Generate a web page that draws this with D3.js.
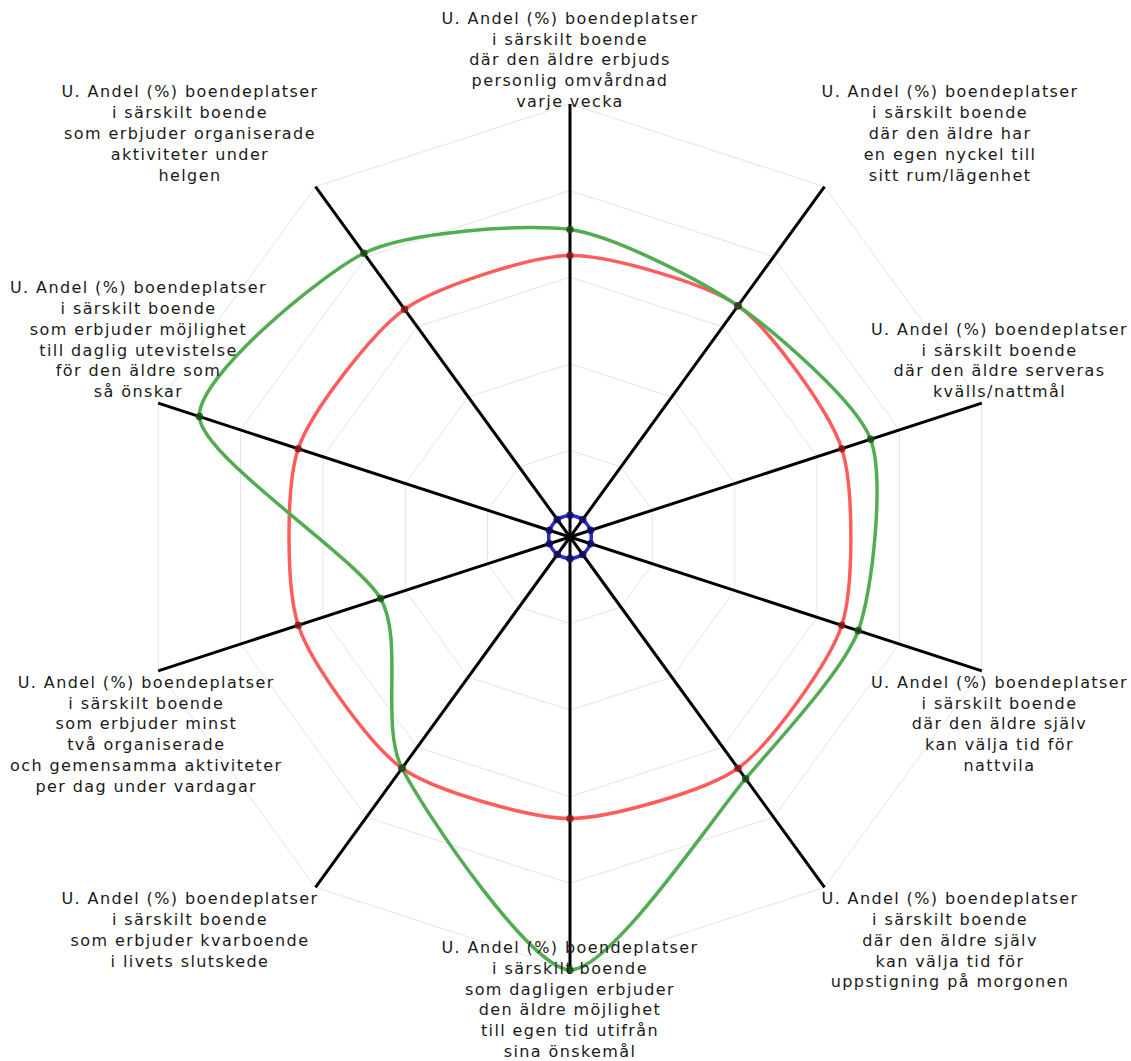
<!DOCTYPE html>
<html>
<head>
<meta charset="utf-8">
<script src="https://cdn.jsdelivr.net/npm/d3@7"></script>
<style>
  body { margin: 0; background: #fff; }
  svg { display: block; }
  .label { font-family: "DejaVu Sans", Verdana, sans-serif; font-size: 16px; letter-spacing: 1.4px; fill: #1a1a1a; }
</style>
</head>
<body>
<div id="viz"></div>
<script>
// axis labels, clockwise from the top
const axisLabels = [
  ["U. Andel (%) boendeplatser", "i särskilt boende", "där den äldre erbjuds", "personlig omvårdnad", "varje vecka"],
  ["U. Andel (%) boendeplatser", "i särskilt boende", "där den äldre har", "en egen nyckel till", "sitt rum/lägenhet"],
  ["U. Andel (%) boendeplatser", "i särskilt boende", "där den äldre serveras", "kvälls/nattmål"],
  ["U. Andel (%) boendeplatser", "i särskilt boende", "där den äldre själv", "kan välja tid för", "nattvila"],
  ["U. Andel (%) boendeplatser", "i särskilt boende", "där den äldre själv", "kan välja tid för", "uppstigning på morgonen"],
  ["U. Andel (%) boendeplatser", "i särskilt boende", "som dagligen erbjuder", "den äldre möjlighet", "till egen tid utifrån", "sina önskemål"],
  ["U. Andel (%) boendeplatser", "i särskilt boende", "som erbjuder kvarboende", "i livets slutskede"],
  ["U. Andel (%) boendeplatser", "i särskilt boende", "som erbjuder minst", "två organiserade", "och gemensamma aktiviteter", "per dag under vardagar"],
  ["U. Andel (%) boendeplatser", "i särskilt boende", "som erbjuder möjlighet", "till daglig utevistelse", "för den äldre som", "så önskar"],
  ["U. Andel (%) boendeplatser", "i särskilt boende", "som erbjuder organiserade", "aktiviteter under", "helgen"]
];

// series values (%)
const redValues   = [65, 66, 66, 66, 66, 65, 66, 66, 66, 65];
const greenValues = [71, 66, 73, 70, 69, 100, 66, 46, 90, 81];
const blueValues  = [5, 5, 5, 5, 5, 5, 5, 5, 5, 5];

const gridLevels = [20, 40, 60, 80, 100];

const series = [
  { name: "blue",  values: blueValues,  color: "#2a2acc", dot: "#101060" },
  { name: "red",   values: redValues,   color: "#ff5c5c", dot: "#8a1c1c" },
  { name: "green", values: greenValues, color: "#52ac52", dot: "#1c501c" }
];

const width = 1131, height = 1061;
const cx = 570, cy = 537, radius = 433;
const n = axisLabels.length;

const svg = d3.select("#viz")
  .append("svg")
  .attr("width", width)
  .attr("height", height);

svg.append("rect").attr("width", width).attr("height", height).attr("fill", "#fff");

const g = svg.append("g").attr("transform", `translate(${cx},${cy})`);

const r = d3.scaleLinear().domain([0, 100]).range([0, radius]);
const angle = d3.scaleLinear().domain([0, n]).range([0, 2 * Math.PI]);

const px = (i, v) => r(v) * Math.sin(angle(i));
const py = (i, v) => -r(v) * Math.cos(angle(i));

// grid polygons
g.selectAll("polygon.grid")
  .data(gridLevels)
  .enter()
  .append("polygon")
  .attr("class", "grid")
  .attr("points", lv => d3.range(n).map(i => [px(i, lv), py(i, lv)].join(",")).join(" "))
  .attr("fill", "none")
  .attr("stroke", "#e4e4e4")
  .attr("stroke-width", 1);

// series lines
const line = d3.lineRadial()
  .angle((d, i) => angle(i))
  .radius(d => r(d))
  .curve(d3.curveCardinalClosed.tension(0.3));

g.selectAll("path.series")
  .data(series)
  .enter()
  .append("path")
  .attr("class", "series")
  .attr("d", d => line(d.values))
  .attr("fill", "none")
  .attr("stroke", d => d.color)
  .attr("stroke-width", 3.5);

// axes
g.selectAll("line.axis")
  .data(d3.range(n))
  .enter()
  .append("line")
  .attr("class", "axis")
  .attr("x1", 0).attr("y1", 0)
  .attr("x2", i => px(i, 100))
  .attr("y2", i => py(i, 100))
  .attr("stroke", "#000")
  .attr("stroke-width", 3);

// markers
series.forEach(s => {
  g.selectAll(null)
    .data(s.values)
    .enter()
    .append("circle")
    .attr("cx", (d, i) => px(i, d))
    .attr("cy", (d, i) => py(i, d))
    .attr("r", 3.8)
    .attr("fill", s.dot)
    .attr("opacity", 0.85);
});

// labels
const lh = 20.8;
axisLabels.forEach((lines, i) => {
  const ex = cx + px(i, 100), ey = cy + py(i, 100);
  const t = svg.append("text").attr("class", "label").attr("text-anchor", "middle");
  lines.forEach((s, k) => {
    t.append("tspan").attr("x", 0).attr("dy", k === 0 ? 0 : lh).text(s);
  });
  const w = t.node().getBBox().width;
  let left;
  if (Math.abs(ex - cx) < 1) left = ex - w / 2;
  else if (ex > cx) left = ex - 3;
  else left = ex + 3 - w;
  left = Math.max(10, Math.min(width - 3 - w, left));

  let firstBase;
  if (Math.abs(ey - cy) > 400 && ey < cy) firstBase = ey + 3 - (lines.length - 1) * lh;
  else if (ey < cy) firstBase = ey - 6 - (lines.length - 1) * lh;
  else firstBase = ey + 17;
  firstBase = Math.min(1057 - (lines.length - 1) * lh, firstBase);

  t.attr("transform", `translate(${left + w / 2},${firstBase})`);
});
</script>
</body>
</html>
